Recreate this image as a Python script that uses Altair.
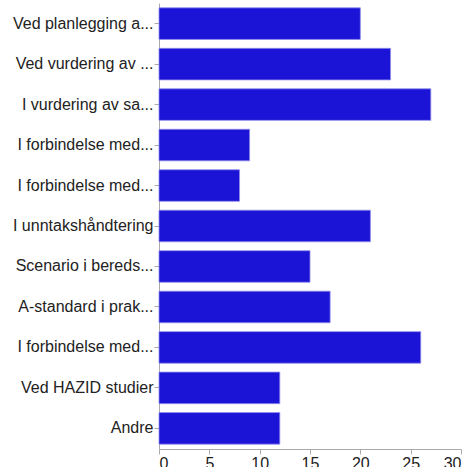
import altair as alt
import pandas as pd

categories = [
    "Ved planlegging a...",
    "Ved vurdering av ...",
    "I vurdering av sa...",
    "I forbindelse med...",
    "I forbindelse med...",
    "I unntakshåndtering",
    "Scenario i bereds...",
    "A-standard i prak...",
    "I forbindelse med...",
    "Ved HAZID studier",
    "Andre",
]
values = [20, 23, 27, 9, 8, 21, 15, 17, 26, 12, 12]

keys = [f"{c}|{i}" for i, c in enumerate(categories)]
df = pd.DataFrame({"key": keys, "value": values})

chart = (
    alt.Chart(df)
    .mark_bar(color="#1B14D6", stroke="#8F8BEA", strokeWidth=0.8)
    .encode(
        x=alt.X(
            "value:Q",
            scale=alt.Scale(domain=[0, 30], nice=False),
            axis=alt.Axis(
                title=None, grid=False, values=[0, 5, 10, 15, 20, 25, 30],
                labelFont="Liberation Sans", labelFontSize=16, labelColor="#222222",
                domainColor="#AAAAAA", tickColor="#AAAAAA", tickSize=5,
                labelPadding=1,
            ),
        ),
        y=alt.Y(
            "key:N",
            sort=keys,
            scale=alt.Scale(paddingInner=0.22, paddingOuter=0.12),
            axis=alt.Axis(
                title=None, labelExpr="split(datum.label, '|')[0]",
                labelFont="Liberation Sans", labelFontSize=16, labelColor="#222222",
                labelLimit=300, domainColor="#AAAAAA", tickColor="#AAAAAA",
                tickSize=5, labelPadding=1,
            ),
        ),
    )
    .properties(
        width=302,
        height=446,
        autosize=alt.AutoSizeParams(type="none"),
        padding={"left": 159, "top": 3, "right": 11, "bottom": 18},
    )
    .configure_view(stroke=None)
)

chart.save("out.html", embed_options={"renderer": "svg", "actions": False})
